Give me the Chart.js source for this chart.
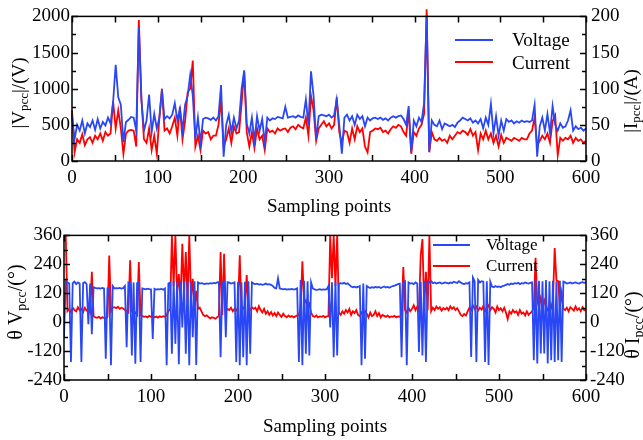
<!DOCTYPE html>
<html>
<head>
<meta charset="utf-8">
<script src="https://cdn.jsdelivr.net/npm/chart.js@4/dist/chart.umd.min.js"></script>
<style>
  html, body { margin: 0; padding: 0; background: #fff; }
  #wrap { position: relative; width: 643px; height: 440px; }
  canvas { position: absolute; left: 0; }
  #cA { top: 0; }
  #cB { top: 220px; }
</style>
</head>
<body>
<div id="wrap">
  <canvas id="cA" width="643" height="220"></canvas>
  <canvas id="cB" width="643" height="220"></canvas>
</div>
<script>
// ---------------- DATA ----------------
const seriesNames = ['Voltage', 'Current'];
const xTicks = [0, 100, 200, 300, 400, 500, 600];
const vMagTicks = [0, 500, 1000, 1500, 2000];
const iMagTicks = [0, 50, 100, 150, 200];
const angTicks = [-240, -120, 0, 120, 240, 360];

// |Vpcc| (V), one value every 3 sampling points (0..600)
const voltMag = [630,300,500,420,560,380,520,470,560,430,
 580,450,540,490,600,520,820,1330,880,780,
 260,540,570,610,600,420,1850,850,420,560,
 920,400,650,450,600,980,580,620,590,640,
 800,560,720,420,780,900,1190,900,300,600,
 250,580,600,590,570,600,560,620,1050,60,
 500,640,400,600,450,560,1000,1255,520,380,
 600,280,620,420,580,250,600,560,590,580,
 610,600,590,750,600,610,620,600,630,610,
 600,850,500,1240,900,300,620,640,630,620,
 640,600,630,850,500,100,600,640,560,620,
 500,640,580,620,480,600,560,590,600,580,
 600,570,590,560,600,620,600,620,630,580,
 500,760,130,560,480,600,540,800,2015,130,
 560,500,480,560,440,520,500,480,500,470,
 530,560,600,580,560,590,530,560,520,580,
 450,600,500,790,380,620,350,560,420,580,
 540,560,520,550,530,560,540,550,540,560,
 775,60,480,600,420,650,380,760,500,420,
 520,460,480,560,700,420,480,440,460,420,
 450];

// |Ipcc| (A), one value every 3 sampling points (0..600)
const currMag = [70,12,30,25,37,22,30,33,25,35,
 30,38,28,40,35,38,82,45,70,45,
 10,38,42,43,42,20,195,87,30,25,
 45,15,35,10,60,100,42,45,38,48,
 60,35,75,30,55,95,100,139,20,35,
 15,42,38,40,30,35,35,50,85,20,
 30,45,25,48,38,40,80,124,40,20,
 40,18,45,30,35,15,45,40,42,38,
 45,42,44,45,40,46,48,44,50,47,
 45,60,35,90,70,28,45,50,55,48,
 52,45,50,88,40,25,42,40,25,45,
 30,48,40,45,20,12,40,42,45,44,
 46,40,42,38,44,48,46,50,48,40,
 35,70,10,40,35,45,50,65,210,12,
 40,30,28,32,28,30,25,35,30,35,
 40,38,42,40,36,44,35,40,15,38,
 30,42,30,38,25,35,20,36,25,32,
 30,28,32,30,28,32,30,30,38,42,
 60,22,28,35,30,38,25,55,63,8,
 32,28,32,30,35,25,32,28,30,25,
 28];

// theta Vpcc (deg), one value every 2 sampling points (0..600)
const voltAng = [-60,170,165,160,-165,162,168,158,165,160,
 -165,162,166,158,-9,160,-50,145,142,140,
 141,139,142,140,-152,141,143,-179,150,140,
 141,140,142,139,141,150,-104,165,163,-138,
 165,-172,162,165,-165,140,138,136,139,137,
 136,-70,138,135,137,136,138,135,140,-179,
 160,165,-131,170,-90,165,-175,170,-22,168,
 -131,170,-179,165,-63,170,-178,165,160,162,
 160,158,161,159,162,160,163,161,165,166,
 -145,165,168,-63,166,164,160,162,165,-165,
 168,-179,165,-145,168,-179,170,-131,165,160,
 158,160,156,158,155,157,160,156,158,155,
 150,142,140,182,140,138,136,138,135,137,
 136,138,135,137,140,-165,175,-179,172,-131,
 170,-138,165,140,136,134,135,137,134,136,
 135,137,150,-22,165,-145,168,-138,160,162,
 160,163,158,161,155,148,145,147,144,146,
 150,-179,160,-152,150,145,142,145,143,146,
 144,146,142,145,148,144,146,143,147,150,
 152,155,158,160,-145,165,170,-179,165,160,
 162,158,165,160,-124,168,-138,170,-165,168,
 165,170,162,165,160,163,165,160,162,165,
 163,160,165,162,168,165,163,170,165,160,
 158,162,160,165,-144,185,170,-165,175,165,
 170,168,-165,170,-178,168,148,145,150,146,
 148,145,150,152,155,158,155,160,158,162,
 160,163,158,162,160,165,162,160,163,165,
 -158,175,-171,172,-130,170,-130,175,-171,170,
 -158,172,-165,170,-158,172,-165,168,165,160,
 162,165,160,163,165,162,160,164,166,163,
 165];

// theta Ipcc (deg), one value every 2 sampling points (0..600)
const currAng = [360,360,46,55,40,60,50,45,62,50,
 55,42,60,48,52,40,209,25,20,18,
 22,16,20,18,15,22,277,45,60,62,
 58,64,55,60,57,50,45,40,257,45,
 35,40,30,250,28,25,22,24,20,26,
 22,25,20,23,19,24,21,25,22,30,
 45,55,360,150,360,120,200,90,325,120,
 291,80,359,100,180,60,130,55,60,45,
 30,25,28,22,15,20,18,14,20,25,
 291,30,284,45,55,50,60,45,55,48,
 60,277,50,55,70,195,58,50,62,55,
 60,45,66,50,40,55,35,45,30,42,
 28,38,25,40,30,22,35,25,20,28,
 22,25,20,24,28,30,60,253,80,90,
 60,75,40,25,22,28,20,24,22,26,
 20,24,25,360,182,360,150,360,40,30,
 45,35,50,40,55,30,45,38,50,30,
 25,40,28,45,35,20,40,25,30,45,
 25,38,20,30,26,22,28,20,24,22,
 26,20,24,22,30,229,50,40,60,45,
 55,70,50,65,45,277,345,60,209,50,
 360,45,60,50,65,55,62,48,58,52,
 60,50,66,55,62,50,58,45,30,25,
 34,28,45,60,50,70,55,65,48,60,
 52,68,45,60,70,50,62,55,40,65,
 50,58,45,60,40,13,45,35,50,40,
 45,30,50,35,40,28,45,30,38,45,
 60,267,89,60,100,70,90,60,50,80,
 60,90,308,175,170,60,120,55,50,60,
 45,62,55,48,65,50,58,45,62,50,
 55];

// sampling-point positions of the stored values
const topSamples = voltMag.map((_, i) => i * 3);
const botSamples = voltAng.map((_, i) => i * 2);

// ---------------- STYLE ----------------
const SERIF = '"Liberation Serif", "Times New Roman", serif';
const BLUE = '#2a47f5';
const RED = '#ff0000';

function pts(xs, ys) { return xs.map((x, i) => ({ x: x, y: ys[i] })); }

function drawParts(ctx, cx, cy, parts, rot) {
  ctx.save();
  ctx.translate(cx, cy);
  if (rot) ctx.rotate(-Math.PI / 2);
  let total = 0;
  parts.forEach(p => { ctx.font = p.f; p.w = ctx.measureText(p.t).width; total += p.w; });
  let x = -total / 2;
  ctx.textBaseline = 'middle';
  ctx.textAlign = 'left';
  ctx.fillStyle = '#000';
  parts.forEach(p => { ctx.font = p.f; ctx.fillText(p.t, x, p.dy || 0); x += p.w; });
  ctx.restore();
}

const framePlugin = {
  id: 'frame',
  afterDraw(chart) {
    const o = chart.options.plugins.frame;
    const ctx = chart.ctx;
    const a = chart.chartArea;
    const sx = chart.scales.x, sy = chart.scales.y, sy1 = chart.scales.y1;
    ctx.save();
    ctx.strokeStyle = '#000';
    ctx.lineWidth = 1.5;
    // inward ticks
    ctx.beginPath();
    for (let v = sx.min; v <= sx.max; v += o.xMinor) {
      const px = Math.round(sx.getPixelForValue(v)) + 0.5;
      ctx.moveTo(px, a.top); ctx.lineTo(px, a.top + 6);
      ctx.moveTo(px, a.bottom); ctx.lineTo(px, a.bottom - 6);
    }
    for (let v = sy.min; v <= sy.max + 1e-9; v += o.yMinor) {
      const py = Math.round(sy.getPixelForValue(v)) + 0.5;
      const len = (Math.abs((v - sy.min) % o.yMajor) < 1e-6) ? 6 : 4;
      ctx.moveTo(a.left, py); ctx.lineTo(a.left + len, py);
    }
    for (let v = sy1.min; v <= sy1.max + 1e-9; v += o.y1Minor) {
      const py = Math.round(sy1.getPixelForValue(v)) + 0.5;
      const len = (Math.abs((v - sy1.min) % o.y1Major) < 1e-6) ? 6 : 4;
      ctx.moveTo(a.right, py); ctx.lineTo(a.right - len, py);
    }
    ctx.stroke();
    // box
    ctx.strokeRect(a.left, a.top, a.right - a.left, a.bottom - a.top);

    // x tick labels
    ctx.fillStyle = '#000';
    ctx.font = '19px ' + SERIF;
    ctx.textAlign = 'center';
    ctx.textBaseline = 'middle';
    xTicks.forEach(v => ctx.fillText(String(v), sx.getPixelForValue(v), o.xLabelY));
    ctx.restore();

    // axis titles
    const big = o.titleSize + 'px ' + SERIF;
    const sub = o.subSize + 'px ' + SERIF;
    drawParts(ctx, o.leftTitle.x, o.leftTitle.y, [
      { t: o.leftTitle.a, f: big }, { t: 'pcc', f: sub, dy: o.subDy }, { t: o.leftTitle.b, f: big }], true);
    drawParts(ctx, o.rightTitle.x, o.rightTitle.y, [
      { t: o.rightTitle.a, f: big }, { t: 'pcc', f: sub, dy: o.subDy }, { t: o.rightTitle.b, f: big }], true);
    drawParts(ctx, (a.left + a.right) / 2 + o.xTitleDx, o.xTitleY, [{ t: 'Sampling points', f: '19px ' + SERIF }], false);

    // legend
    const L = o.legend;
    ctx.save();
    ctx.lineWidth = 2;
    ctx.strokeStyle = BLUE;
    ctx.beginPath(); ctx.moveTo(L.x0, L.y[0]); ctx.lineTo(L.x1, L.y[0]); ctx.stroke();
    ctx.strokeStyle = RED;
    ctx.beginPath(); ctx.moveTo(L.x0, L.y[1]); ctx.lineTo(L.x1, L.y[1]); ctx.stroke();
    ctx.fillStyle = '#000';
    ctx.font = L.size + 'px ' + SERIF;
    ctx.textAlign = 'left';
    ctx.textBaseline = 'middle';
    ctx.fillText(seriesNames[0], L.tx, L.ty[0]);
    ctx.fillText(seriesNames[1], L.tx, L.ty[1]);
    ctx.restore();
  }
};

function tickFont() { return { family: SERIF, size: 19 }; }

function makeChart(id, cfg) {
  return new Chart(document.getElementById(id), {
    type: 'line',
    data: {
      datasets: [
        { label: seriesNames[0], data: pts(cfg.xs, cfg.v), yAxisID: 'y', borderColor: BLUE,
          borderWidth: 1.8, pointRadius: 0, tension: 0, clip: cfg.clip },
        { label: seriesNames[1], data: pts(cfg.xs, cfg.i), yAxisID: 'y1', borderColor: RED,
          borderWidth: 1.8, pointRadius: 0, tension: 0, clip: cfg.clip }
      ]
    },
    options: {
      responsive: false,
      animation: false,
      events: [],
      layout: { padding: { top: cfg.top, left: 0, right: 0, bottom: 0 } },
      plugins: { legend: { display: false }, tooltip: { enabled: false }, frame: cfg.frame },
      scales: {
        x: {
          type: 'linear', min: 0, max: 600,
          afterFit: s => { s.height = cfg.xHeight; },
          afterBuildTicks: s => { s.ticks = xTicks.map(v => ({ value: v })); },
          grid: { display: false, drawTicks: false },
          border: { display: false },
          ticks: { display: false, font: tickFont(), maxRotation: 0, autoSkip: false }
        },
        y: {
          position: 'left', min: cfg.yMin, max: cfg.yMax,
          afterFit: s => { s.width = cfg.left; },
          afterBuildTicks: s => { s.ticks = cfg.yTicks.map(v => ({ value: v })); },
          grid: { display: false, drawTicks: false },
          border: { display: false },
          ticks: { font: tickFont(), color: '#000', padding: 2, autoSkip: false, callback: v => String(v) }
        },
        y1: {
          position: 'right', min: cfg.y1Min, max: cfg.y1Max,
          afterFit: s => { s.width = 643 - cfg.right; },
          afterBuildTicks: s => { s.ticks = cfg.y1Ticks.map(v => ({ value: v })); },
          grid: { display: false, drawTicks: false },
          border: { display: false },
          ticks: { font: tickFont(), color: '#000', padding: cfg.y1Pad, autoSkip: false, callback: v => String(v) }
        }
      }
    },
    plugins: [framePlugin]
  });
}

makeChart('cA', {
  xs: topSamples, v: voltMag, i: currMag, clip: false,
  top: 16, left: 72, right: 586, xHeight: 59, y1Pad: 5,
  yMin: 0, yMax: 2000, yTicks: vMagTicks,
  y1Min: 0, y1Max: 200, y1Ticks: iMagTicks,
  frame: {
    xMinor: 50, yMinor: 250, yMajor: 500, y1Minor: 25, y1Major: 50,
    titleSize: 19, subSize: 13, subDy: 5,
    leftTitle: { x: 20, y: 93, a: '|V', b: '|/(V)' },
    rightTitle: { x: 632, y: 101, a: '|I', b: '|/(A)' },
    xLabelY: 178, xTitleY: 207, xTitleDx: 0,
    legend: { x0: 455, x1: 493, y: [40, 62], tx: 512, ty: [41, 64], size: 19 }
  }
});

makeChart('cB', {
  xs: botSamples, v: voltAng, i: currAng, clip: 0,
  top: 13, left: 64, right: 586, xHeight: 60, y1Pad: 4,
  yMin: -240, yMax: 360, yTicks: angTicks,
  y1Min: -240, y1Max: 360, y1Ticks: angTicks,
  frame: {
    xMinor: 50, yMinor: 60, yMajor: 120, y1Minor: 60, y1Major: 120,
    titleSize: 20, subSize: 14, subDy: 5,
    leftTitle: { x: 17, y: 82, a: 'θ V', b: '/(°)' },
    rightTitle: { x: 634, y: 105, a: 'θ I', b: '/(°)' },
    xLabelY: 177, xTitleY: 207, xTitleDx: 0,
    legend: { x0: 433, x1: 470, y: [25, 46], tx: 486, ty: [26, 47], size: 17 }
  }
});
</script>
</body>
</html>
